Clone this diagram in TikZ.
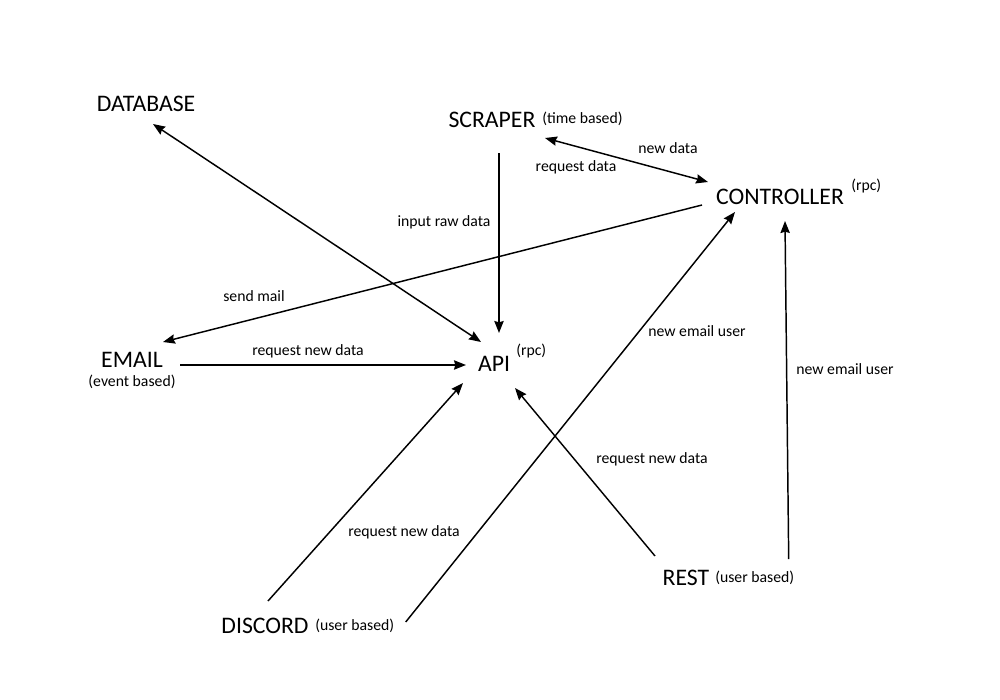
\documentclass[tikz,border=0pt]{standalone}
\usepackage{fontspec}
\setmainfont{Carlito}
\usetikzlibrary{arrows.meta}
\tikzset{
  big/.style={font=\fontsize{17.8}{21}\selectfont, inner sep=0pt},
  small/.style={font=\fontsize{11.8}{14}\selectfont, inner sep=0pt},
  lbl/.style={font=\fontsize{11.8}{14}\selectfont, inner sep=0pt},
  conn/.style={line width=1.1pt, -{Stealth[length=9pt,width=7pt,inset=1pt]}},
  bconn/.style={line width=1.1pt, {Stealth[length=9pt,width=7pt,inset=1pt]}-{Stealth[length=9pt,width=7pt,inset=1pt]}}
}
\begin{document}
\begin{tikzpicture}[x=0.75pt,y=-0.75pt]
\useasboundingbox (0,0) rectangle (1000,700);
% main nodes
\node[big] (db) at (146,104) {DATABASE};
\node[big] (scraper) at (492,120) {SCRAPER};
\node[small, anchor=west] (scrapernote) at (542,119) {(time based)};
\node[big] (ctrl) at (780,197) {CONTROLLER};
\node[small, anchor=west] (ctrlnote) at (851,186) {(rpc)};
\node[big] (email) at (132,360) {EMAIL};
\node[small] (emailnote) at (132,382) {(event based)};
\node[big] (api) at (494,364) {API};
\node[small, anchor=west] (apinote) at (516,351) {(rpc)};
\node[big] (discord) at (265,626) {DISCORD};
\node[small, anchor=west] (discordnote) at (315,626) {(user based)};
\node[big] (rest) at (686,578) {REST};
\node[small, anchor=west] (restnote) at (715,578) {(user based)};
% connectors
\draw[bconn] ([shift={(-13,-22)}]api.center) -- ([shift={(7,20)}]db.center);
\draw[conn] ([shift={(7,33)}]scraper.center) -- ([shift={(5,-31)}]api.center);
\draw[bconn] ([shift={(53,18)}]scraper.center) -- ([shift={(-72,-15)}]ctrl.center);
\draw[conn] ([shift={(-78,8)}]ctrl.center) -- ([shift={(31,-18)}]email.center);
\draw[conn] ([shift={(48,5)}]email.center) -- ([shift={(-28,1)}]api.center);
\draw[conn] ([shift={(3,-25)}]discord.center) -- ([shift={(-31,19)}]api.center);
\draw[conn] ([shift={(51,-4)}]discordnote.center) -- ([shift={(-45,15)}]ctrl.center);
\draw[conn] ([shift={(-31,-22)}]rest.center) -- ([shift={(21,24)}]api.center);
\draw[conn] ([shift={(34,-19)}]restnote.center) -- ([shift={(5,24)}]ctrl.center);
% labels
\node[lbl] (l1) at (444,222) {input raw data};
\node[lbl] (l2) at (668,148) {new data};
\node[lbl] (l3) at (576,167) {request data};
\node[lbl] (l4) at (254,296) {send mail};
\node[lbl] (l5) at (308,351) {request new data};
\node[lbl] (l6) at (404,532) {request new data};
\node[lbl] (l7) at (697,331) {new email user};
\node[lbl] (l8) at (652,459) {request new data};
\node[lbl] (l9) at (845,369) {new email user};
\end{tikzpicture}
\end{document}
